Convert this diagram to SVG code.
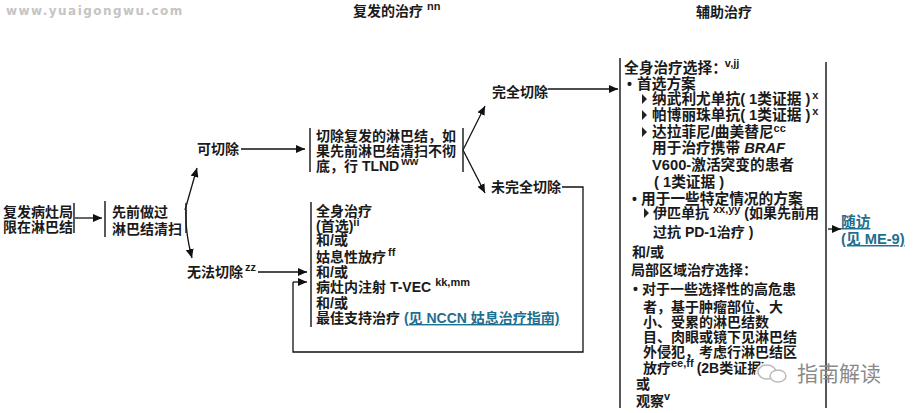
<svg xmlns="http://www.w3.org/2000/svg" width="913" height="413" viewBox="0 0 913 413">
<style>
text{font-family:"Liberation Sans","Noto Sans CJK SC",sans-serif;font-weight:700;font-size:14px;fill:#1a1a1a}
.s{font-size:11px;font-weight:700}
.w{font-size:14.7px}
.b{stroke:#222;stroke-width:1.5;fill:none}
.c{stroke:#111;stroke-width:1.3;fill:none}
.a{marker-end:url(#m)}
.l{fill:#1f6f8f;text-decoration:underline}
.i{font-style:italic}
</style>
<defs><marker id="m" markerUnits="userSpaceOnUse" markerWidth="10" markerHeight="8" refX="9" refY="4" orient="auto"><path d="M0 0L9 4L0 8Z" fill="#111"/></marker></defs>
<rect width="913" height="413" fill="#fff"/>
<text x="6" y="15" style="font-size:12px;fill:#c4c4c4;letter-spacing:1.45px;font-family:'DejaVu Sans',sans-serif">www.yuaigongwu.com</text>
<text x="353" y="16">复发的治疗<tspan dx="4" dy="-6" class="s">nn</tspan></text>
<text x="696" y="17">辅助治疗</text>
<g id="connectors">
<path class="c a" d="M75 218H102"/>
<path class="c a" d="M185 210L197 168"/>
<path class="c a" d="M186 210Q185 232 192 258"/>
<path class="c a" d="M241 149H305"/>
<path class="c a" d="M258 272H307"/>
<path class="c a" d="M463 150L485 106"/>
<path class="c a" d="M463 150L485 193"/>
<path class="c a" d="M548 89H618"/>
<path class="c" d="M562 187H583V352H293V282"/>
<path class="c a" d="M293 282H307"/>
<path class="c a" d="M828 229H841"/>
</g>
<g id="n1"><text x="3" y="217">复发病灶局</text><text x="3" y="232">限在淋巴结</text><path class="b" d="M74 203V233"/></g>
<g id="n2"><path class="b" d="M105 201V237"/><text x="112" y="217">先前做过</text><text x="112" y="234">淋巴结清扫</text><path class="b" d="M186 203V233"/></g>
<g id="n3"><text x="197" y="154">可切除</text></g>
<g id="n4"><text x="187" y="277">无法切除<tspan dx="2" dy="-6" class="s">zz</tspan></text></g>
<g id="n5"><path class="b" d="M310 128V172"/><text x="316" y="141">切除复发的淋巴结，如</text><text x="316" y="156">果先前淋巴结清扫不彻</text><text x="316" y="171">底，行 TLND<tspan dx="2" dy="-6" class="s">ww</tspan></text><path class="b" d="M463 128V172"/></g>
<g id="n6"><path class="b" d="M311 202V327"/>
<text x="316" y="216">全身治疗</text>
<text x="316" y="231">(首选)<tspan dy="-5" class="s">ii</tspan></text>
<text x="316" y="245">和/或</text>
<text x="316" y="262">姑息性放疗<tspan dx="2" dy="-6" class="s">ff</tspan></text>
<text x="316" y="277">和/或</text>
<text x="316" y="292">病灶内注射 T-VEC<tspan dx="4" dy="-6" class="s">kk,mm</tspan></text>
<text x="316" y="308">和/或</text>
<text x="316" y="323">最佳支持治疗 <tspan class="l">(见 NCCN 姑息治疗指南)</tspan></text></g>
<g id="n7"><text x="492" y="97">完全切除</text></g>
<g id="n8"><text x="491" y="192">未完全切除</text></g>
<g id="n9"><path class="b" d="M620 58V408M826 62V408"/>
<text x="624" y="73" class="w">全身治疗选择：<tspan dy="-6" dx="-2" class="s">v,jj</tspan></text>
<text x="627" y="89">•</text><text x="637" y="89" class="w">首选方案</text>
<path d="M642 94l5 5l-5 5zM642 110l5 5l-5 5zM642 127l5 5l-5 5zM644 208l5 5l-5 5z" fill="#222"/>
<text x="652" y="104" class="w">纳武利尤单抗( 1类证据 )<tspan dx="2" dy="-5" class="s">x</tspan></text>
<text x="652" y="120" class="w">帕博丽珠单抗( 1类证据 )<tspan dx="2" dy="-5" class="s">x</tspan></text>
<text x="652" y="137" class="w">达拉菲尼/曲美替尼<tspan dy="-5" class="s">cc</tspan></text>
<text x="652" y="153" class="w">用于治疗携带 <tspan class="i">BRAF</tspan></text>
<text x="652" y="170" class="w">V600-激活突变的患者</text>
<text x="654" y="187" class="w">( 1类证据 )</text>
<text x="632" y="204">•</text><text x="641" y="204" class="w">用于一些特定情况的方案</text>
<text x="653" y="218">伊匹单抗 <tspan dy="-5" class="s">xx,yy</tspan><tspan dy="5"> (如果先前用</tspan></text>
<text x="653" y="237">过抗 PD-1治疗 )</text>
<text x="632" y="257">和/或</text>
<text x="631" y="275">局部区域治疗选择：</text>
<text x="633" y="294">•</text><text x="642" y="294">对于一些选择性的高危患</text>
<text x="643" y="312">者，基于肿瘤部位、大</text>
<text x="643" y="327">小、受累的淋巴结数</text>
<text x="643" y="342">目、肉眼或镜下见淋巴结</text>
<text x="643" y="357">外侵犯，考虑行淋巴结区</text>
<text x="643" y="373">放疗<tspan dy="-6" class="s">ee,ff</tspan><tspan dy="6" dx="3">(2B类证据)</tspan></text>
<text x="636" y="389">或</text>
<text x="636" y="406">观察<tspan dy="-6" class="s">v</tspan></text>
</g>
<g id="n10"><text x="841" y="227" class="l w">随访</text><text x="841" y="244" class="l w">(见 ME-9)</text></g>
<g id="wm"><ellipse cx="772" cy="374" rx="17" ry="13" fill="#fff" opacity=".9"/><ellipse cx="767" cy="372" rx="9" ry="7" fill="#fff" stroke="#bbb" stroke-width="1.5"/><ellipse cx="778" cy="376" rx="8" ry="6" fill="#fff" stroke="#bbb" stroke-width="1.5"/>
<text x="797" y="381" style="font-size:21px;font-weight:400;fill:#8a8a8a">指南解读</text></g>
</svg>
